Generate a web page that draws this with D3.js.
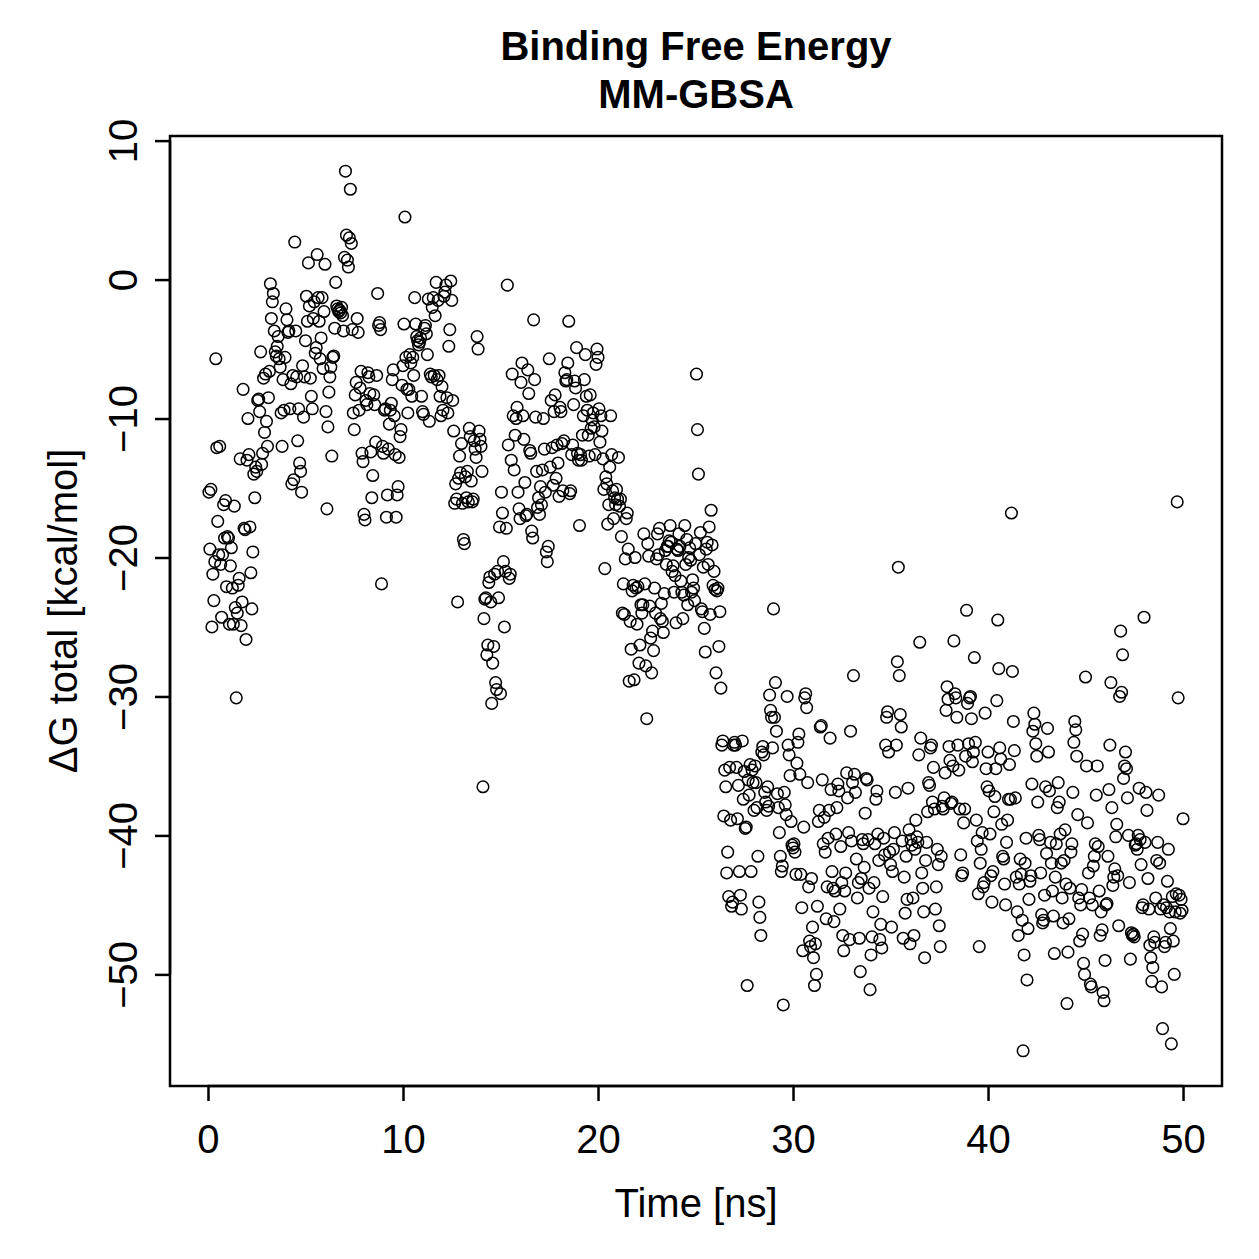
<!DOCTYPE html>
<html>
<head>
<meta charset="utf-8">
<script src="https://cdn.jsdelivr.net/npm/d3@7"></script>
<style>
  body { margin: 0; background: #fff; }
  text { font-family: "Liberation Sans", Arial, Helvetica, sans-serif; fill: #000; }
</style>
</head>
<body>
<div id="chart"></div>
<script>
// dG total [kcal/mol], one frame every 0.05 ns, grouped by 10 ns
var dG0to10 = [
  -15.3,-19.4,-15.1,-25.0,-21.2,-23.1,-20.3,-5.7,-12.1,-17.4,-19.8,-12.0,-20.5,-24.3,-19.8,-16.2,-18.6,-15.9,-22.1,-18.5,
  -18.6,-24.8,-20.6,-19.3,-22.2,-24.8,-16.3,-23.6,-30.1,-24.0,-22.0,-21.5,-12.9,-24.9,-23.2,-7.9,-17.9,-18.0,-25.9,-13.0,
  -10.0,-12.6,-17.8,-21.1,-23.7,-19.6,-14.0,-15.7,-13.5,-13.8,-8.7,-8.6,-9.5,-5.2,-13.3,-12.5,-7.1,-11.0,-6.8,-10.2,
  -12.0,-8.5,-6.6,-0.3,-2.8,-1.6,-1.0,-3.7,-5.2,-5.5,-4.8,-4.1,-5.7,-6.3,-9.6,-12.0,-7.2,-9.4,-5.6,-2.1,
  -2.9,-3.8,-3.7,-9.3,-7.5,-14.7,-6.9,-14.4,2.7,-3.7,-7.0,-11.6,-9.3,-13.2,-13.8,-15.3,-6.2,-9.9,-7.0,-4.4,
  -1.2,-3.0,1.2,-1.9,-7.1,-8.4,-9.3,-2.8,-1.6,-5.3,-4.9,1.8,-1.3,-3.0,-5.7,-4.2,-1.3,-6.4,-2.3,1.1,
  -9.5,-16.5,-10.6,-8.1,-7.0,-6.3,-12.7,-5.6,-5.5,-3.5,-0.2,-1.9,-2.1,-2.3,-2.2,-2.4,-2.0,-2.6,-3.7,1.6,
  7.8,3.2,1.4,0.9,3.0,6.5,2.6,-3.6,-9.6,-10.8,-8.3,-7.4,-2.8,-3.8,-9.4,-7.8,-6.6,-12.5,-13.1,-16.9,
  -17.3,-8.7,-9.0,-6.7,-7.0,-8.2,-12.4,-15.7,-14.1,-8.3,-9.0,-11.7,-6.9,-1.0,-3.3,-3.1,-3.6,-21.9,-12.0,-12.5,
  -9.4,-9.3,-17.1,-15.5,-12.2,-10.4,-9.4,-8.9,-7.2,-6.5,-9.8,-12.6,-17.1,-15.5,-14.9,-12.8,-11.3,-10.8,-7.6,-6.2
];
var dG10to20 = [
  -3.2,4.5,-5.6,-7.9,-9.6,-7.9,-5.4,-6.0,-8.4,-5.6,-6.9,-1.3,-3.2,-4.1,-4.4,-4.7,-4.5,-4.2,-8.4,-9.5,
  -9.7,-3.5,-3.3,-3.9,-5.4,-1.4,-10.2,-6.8,-7.0,-2.0,-1.3,-6.9,-2.6,-0.2,-7.2,-1.5,-6.9,-8.4,-9.8,-7.7,
  -9.4,-1.2,-0.9,-0.4,-8.5,-9.6,-4.8,-3.6,-0.1,-1.5,-8.7,-10.9,-16.1,-14.7,-15.8,-23.2,-14.3,-12.7,-13.9,-11.8,
  -16.1,-18.7,-19.0,-14.2,-15.7,-13.8,-16.0,-10.7,-11.3,-14.5,-16.0,-15.8,-11.6,-12.2,-12.8,-4.1,-5.0,-10.9,-11.5,-12.0,
  -13.8,-36.5,-24.4,-23.0,-22.9,-27.0,-26.3,-21.8,-21.4,-23.2,-30.5,-27.6,-26.4,-21.2,-29.0,-29.5,-21.0,-22.9,-17.8,-29.8,
  -15.3,-16.8,-20.3,-25.0,-21.0,-17.9,-0.4,-11.9,-21.5,-21.2,-13.0,-6.8,-9.8,-13.7,-11.2,-10.0,-9.2,-15.3,-16.5,-17.2,
  -7.4,-6.0,-9.8,-11.5,-14.6,-17.0,-16.9,-6.5,-8.2,-12.3,-12.5,-18.1,-18.6,-2.9,-7.2,-9.9,-13.8,-16.4,-15.7,-16.9,
  -14.9,-16.2,-13.7,-10.0,-12.2,-15.3,-19.6,-20.3,-19.2,-5.7,-13.5,-8.7,-12.1,-14.8,-9.5,-8.3,-14.3,-11.9,-13.2,-15.6,
  -9.2,-9.5,-11.8,-15.2,-11.6,-6.7,-7.3,-7.2,-6.0,-3.0,-15.4,-15.2,-12.6,-11.9,-9.0,-7.3,-7.8,-4.9,-12.5,-13.0,
  -17.7,-12.6,-13.0,-11.2,-9.8,-7.2,-5.4,-8.4,-9.4,-11.2,-12.7,-8.3,-10.7,-10.1,-9.6,-10.6,-12.6,-6.1,-5.0,-5.6
];
var dG20to30 = [
  -9.3,-11.7,-9.8,-10.9,-12.9,-15.1,-20.8,-14.2,-14.7,-17.6,-16.2,-13.5,-9.8,-12.6,-15.2,-17.2,-15.7,-16.2,-15.1,-15.8,
  -12.8,-16.3,-15.8,-18.5,-24.0,-21.9,-24.1,-20.1,-17.2,-16.8,-19.4,-28.9,-24.6,-26.6,-22.4,-22.0,-28.8,-20.0,-22.2,-24.8,
  -22.1,-27.6,-26.3,-23.4,-24.0,-23.4,-18.3,-21.9,-27.8,-31.6,-19.0,-19.9,-23.5,-25.8,-28.3,-25.3,-26.7,-22.2,-24.0,-20.1,
  -18.3,-19.8,-17.9,-24.4,-23.3,-24.6,-25.4,-22.6,-19.5,-20.5,-19.2,-19.2,-18.8,-17.7,-18.9,-21.0,-20.6,-22.5,-21.3,-24.7,
  -19.4,-19.5,-18.3,-19.2,-21.7,-22.5,-24.4,-22.7,-17.7,-20.5,-18.7,-23.4,-20.0,-19.3,-20.2,-22.5,-21.6,-22.2,-23.1,-19.0,
  -6.8,-10.8,-14.0,-19.8,-18.2,-23.7,-23.9,-20.7,-25.1,-26.8,-19.4,-18.9,-20.5,-17.8,-24.1,-16.6,-19.1,-22.0,-21.0,-22.3,
  -28.3,-22.4,-22.2,-26.4,-23.9,-29.4,-33.5,-33.2,-38.6,-35.3,-36.5,-42.7,-41.2,-44.4,-35.1,-38.9,-45.1,-44.8,-33.5,-33.3,
  -33.5,-35.1,-38.8,-36.4,-42.6,-44.3,-45.3,-33.2,-37.4,-35.4,-39.5,-39.4,-50.8,-36.0,-37.1,-34.9,-42.6,-35.3,-36.2,-38.2,
  -35.0,-36.2,-38.0,-41.5,-44.8,-45.9,-47.2,-34.0,-33.6,-34.2,-36.9,-37.6,-38.2,-36.5,-37.9,-29.9,-31.0,-31.5,-33.7,-23.7,
  -31.5,-29.0,-32.5,-37.0,-38.0,-39.8,-41.5,-42.6,-42.2,-52.2,-36.9,-37.8,-38.5,-30.0,-33.5,-34.2,-35.7,-39.0,-40.7,-40.9
];
var dG30to40 = [
  -40.6,-41.2,-42.8,-34.8,-33.3,-32.7,-35.6,-42.8,-45.2,-48.3,-39.4,-30.1,-29.8,-30.8,-36.2,-43.7,-47.6,-48.0,-43.1,-46.6,
  -48.8,-50.8,-47.8,-50.0,-45.1,-39.0,-38.2,-32.2,-32.1,-36.0,-40.6,-38.7,-41.2,-46.0,-43.7,-40.2,-38.2,-33.0,-36.7,-42.6,
  -43.8,-46.2,-44.0,-39.9,-38.0,-36.3,-36.8,-45.3,-40.8,-43.4,-47.2,-48.3,-44.0,-42.7,-35.5,-37.3,-39.8,-47.5,-32.5,-40.4,
  -36.2,-28.5,-35.6,-36.9,-41.7,-44.5,-43.4,-47.4,-49.8,-43.1,-40.3,-40.6,-42.3,-38.4,-35.9,-36.0,-40.3,-43.8,-51.1,-48.6,
  -47.3,-45.5,-43.4,-40.6,-37.4,-36.8,-39.9,-41.8,-47.5,-46.4,-48.1,-44.4,-40.2,-41.4,-33.5,-31.5,-31.1,-34.0,-41.2,-42.1,
  -46.6,-42.6,-41.0,-39.8,-36.9,-33.5,-27.5,-20.7,-28.5,-31.3,-32.2,-40.4,-47.4,-43.0,-45.6,-41.5,-44.6,-36.6,-39.6,-47.8,
  -40.3,-40.7,-44.5,-47.2,-41.0,-38.9,-40.1,-40.5,-34.2,-26.1,-33.0,-42.7,-43.8,-45.5,-48.8,-41.8,-40.5,-38.3,-36.2,-36.4,
  -33.7,-33.5,-37.6,-35.1,-38.1,-45.3,-43.7,-41.0,-42.1,-46.5,-48.0,-41.5,-37.9,-38.1,-37.3,-35.5,-31.0,-29.3,-30.2,-33.6,
  -34.6,-37.7,-37.6,-35.0,-26.0,-29.8,-30.1,-31.5,-33.5,-35.3,-38.1,-41.4,-42.9,-42.7,-39.1,-38.1,-34.3,-23.8,-30.5,-33.4,
  -30.1,-30.0,-31.6,-34.7,-34.0,-27.2,-33.3,-38.9,-40.4,-44.2,-48.0,-42.0,-41.0,-39.8,-43.7,-43.4,-31.2,-35.2,-36.5,-34.0
];
var dG40to50 = [
  -36.8,-39.9,-42.9,-44.8,-42.6,-38.3,-37.2,-35.2,-30.3,-24.5,-28.0,-33.7,-34.5,-39.2,-41.5,-41.7,-43.5,-45.0,-40.5,-38.9,
  -37.4,-34.9,-37.4,-16.8,-28.2,-31.8,-33.9,-37.3,-43.0,-45.5,-47.2,-43.5,-41.7,-42.8,-46.1,-55.5,-48.6,-42.0,-40.2,-50.4,
  -46.7,-44.6,-43.3,-42.9,-36.3,-32.5,-31.2,-32.0,-33.4,-34.3,-37.6,-40.0,-40.3,-42.7,-45.7,-46.3,-46.1,-44.3,-36.5,-41.3,
  -32.3,-34.0,-36.8,-40.5,-42.0,-44.0,-45.8,-48.5,-43.0,-40.6,-38.0,-36.2,-37.6,-39.9,-42.0,-44.5,-46.3,-41.8,-39.6,-43.5,
  -52.1,-48.4,-46.0,-43.8,-41.2,-40.6,-36.9,-33.3,-31.8,-32.4,-34.3,-38.5,-44.5,-47.6,-45.0,-43.9,-47.1,-49.2,-50.0,-28.6,
  -35.0,-39.1,-42.7,-44.5,-50.7,-50.9,-45.0,-42.2,-41.5,-40.6,-37.1,-35.0,-40.8,-44.0,-47.2,-45.5,-46.8,-51.3,-51.9,-49.0,
  -45.0,-44.9,-41.5,-36.7,-33.5,-29.0,-38.0,-43.6,-43.0,-42.4,-40.1,-39.2,-42.9,-46.5,-30.0,-25.3,-29.7,-27.0,-35.9,-35.0,
  -34.0,-35.2,-37.3,-40.0,-43.4,-48.9,-47.0,-47.2,-47.1,-47.3,-40.7,-40.6,-41.0,-40.0,-36.6,-40.3,-42.1,-45.2,-45.0,-24.3,
  -40.5,-36.9,-38.2,-43.1,-45.3,-47.9,-48.8,-50.5,-49.5,-47.3,-47.7,-44.5,-41.8,-40.5,-37.1,-42.0,-45.3,-50.9,-53.9,-45.0,
  -48.0,-47.7,-45.2,-43.3,-41.0,-45.5,-46.7,-55.0,-44.4,-47.6,-50.0,-45.5,-44.2,-16.0,-30.1,-44.3,-45.6,-44.6,-45.4,-38.8
];

var totalTime = 50;        // ns
var xTicks = [0, 10, 20, 30, 40, 50];
var yTicks = [10, 0, -10, -20, -30, -40, -50];
var titleLines = ["Binding Free Energy", "MM-GBSA"];

var dG = [].concat(dG0to10, dG10to20, dG20to30, dG30to40, dG40to50);
var data = dG.map(function(v, i) {
    return { time: (i + 1) * totalTime / dG.length, energy: v };
});

var width = 1259, height = 1259;
var plot = { left: 170, right: 1222, top: 136, bottom: 1086 };

// R style limits: data range extended by 4 %
function rLimits(ext) {
    var pad = (ext[1] - ext[0]) * 0.04;
    return [ext[0] - pad, ext[1] + pad];
}

var xScale = d3.scaleLinear()
    .domain(rLimits(d3.extent(data, d => d.time)))
    .range([plot.left, plot.right]);

var yScale = d3.scaleLinear()
    .domain(rLimits(d3.extent(data, d => d.energy)))
    .range([plot.bottom, plot.top]);

var svg = d3.select('#chart')
    .append('svg')
    .attr('width', width)
    .attr('height', height);

// points
svg.append('g')
    .selectAll('circle')
    .data(data)
    .enter()
    .append('circle')
    .attr('cx', d => xScale(d.time))
    .attr('cy', d => yScale(d.energy))
    .attr('r', 5.8)
    .attr('fill', 'none')
    .attr('stroke', '#000')
    .attr('stroke-width', 1.5);

// box
svg.append('rect')
    .attr('x', plot.left)
    .attr('y', plot.top)
    .attr('width', plot.right - plot.left)
    .attr('height', plot.bottom - plot.top)
    .attr('fill', 'none')
    .attr('stroke', '#000')
    .attr('stroke-width', 2.5);

// x axis
var xAxis = d3.axisBottom(xScale)
    .tickValues(xTicks)
    .tickSize(15)
    .tickPadding(10)
    .tickFormat(d3.format('d'));

var gx = svg.append('g')
    .attr('transform', 'translate(0,' + plot.bottom + ')')
    .call(xAxis);
gx.select('.domain')
    .attr('d', 'M' + xScale(xTicks[0]) + ',0H' + xScale(xTicks[xTicks.length - 1]))
    .attr('stroke-width', 2.5);
gx.selectAll('.tick line').attr('stroke-width', 2.5);
gx.selectAll('.tick text')
    .style('font-size', '40px')
    .attr('y', 67)
    .attr('dy', null);

// y axis
var yAxis = d3.axisLeft(yScale)
    .tickValues(yTicks)
    .tickSize(15)
    .tickFormat(d3.format('d'));

var gy = svg.append('g')
    .attr('transform', 'translate(' + plot.left + ',0)')
    .call(yAxis);
gy.select('.domain')
    .attr('d', 'M0,' + yScale(yTicks[0]) + 'V' + yScale(yTicks[yTicks.length - 1]))
    .attr('stroke-width', 2.5);
gy.selectAll('.tick line').attr('stroke-width', 2.5);
gy.selectAll('.tick text')
    .style('font-size', '40px')
    .attr('x', null)
    .attr('dy', null)
    .attr('text-anchor', 'middle')
    .attr('transform', 'translate(-33,0) rotate(-90)');

svg.selectAll('.domain, .tick line').attr('stroke', '#000');
svg.selectAll('.tick text').attr('fill', '#000').style('font-family', '"Liberation Sans", Arial, sans-serif');

// axis labels
svg.append('text')
    .attr('x', (plot.left + plot.right) / 2)
    .attr('y', 1217)
    .style('text-anchor', 'middle')
    .style('font-size', '40px')
    .text('Time [ns]');

svg.append('text')
    .attr('transform', 'translate(77,' + (plot.top + plot.bottom) / 2 + ') rotate(-90)')
    .style('text-anchor', 'middle')
    .style('font-size', '40px')
    .text('ΔG total [kcal/mol]');

// title
svg.selectAll('.title')
    .data(titleLines)
    .enter()
    .append('text')
    .attr('class', 'title')
    .attr('x', (plot.left + plot.right) / 2)
    .attr('y', (d, i) => 60 + i * 48)
    .style('text-anchor', 'middle')
    .style('font-size', '40px')
    .style('font-weight', 'bold')
    .text(d => d);
</script>
</body>
</html>
